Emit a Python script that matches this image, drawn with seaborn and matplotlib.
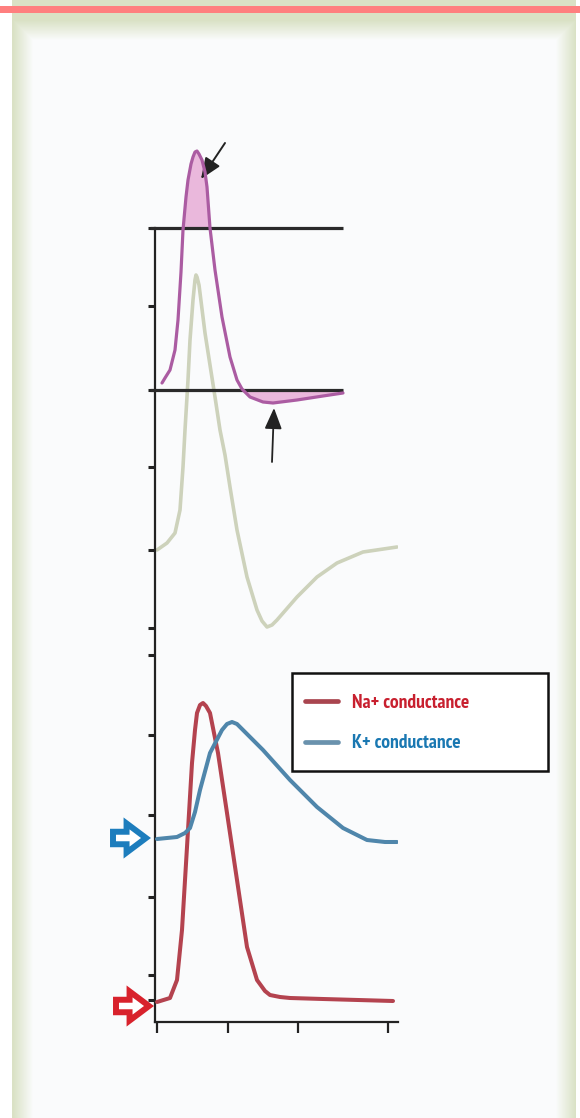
import numpy as np
import pandas as pd
import matplotlib
matplotlib.use("Agg")
import matplotlib.pyplot as plt
from matplotlib.patches import Rectangle
import seaborn as sns

# ---------------- data (arbitrary units) ----------------
# membrane potential trace (upper, magenta)
time_vm = [7, 10, 15, 20, 23, 26, 28, 31, 33, 36, 38, 40, 42, 44, 47, 50, 52, 55, 60, 67, 75, 82, 87, 95, 108, 118, 142, 168, 188]
vm = [639, 644, 652, 672, 702, 750, 792, 825, 842, 858, 865, 870, 871, 868, 862, 850, 835, 794, 752, 705, 665, 642, 633, 625, 620, 619, 622, 626, 629]

# action potential trace (middle, grey-green)
time_ap = [2, 12, 20, 25, 28, 30, 33, 35, 38, 40, 41, 42, 44, 50, 55, 60, 65, 70, 75, 82, 92, 102, 107, 112, 117, 122, 142, 162, 182, 208, 242]
ap = [472, 479, 489, 512, 555, 592, 642, 682, 722, 742, 747, 745, 737, 689, 657, 625, 592, 567, 535, 492, 445, 412, 401, 395, 397, 402, 425, 445, 459, 470, 475]

# conductances (lower)
time_na = [2, 15, 22, 27, 32, 37, 40, 42, 45, 48, 51, 55, 63, 72, 82, 92, 102, 110, 115, 125, 135, 168, 238]
na = [20, 24, 42, 92, 175, 259, 292, 309, 317, 319, 316, 309, 269, 209, 142, 75, 42, 31, 27, 25, 24, 23, 21]
time_k = [2, 22, 30, 35, 40, 45, 55, 67, 72, 77, 82, 88, 108, 135, 162, 188, 212, 230, 242]
k = [183, 185, 189, 194, 210, 232, 269, 292, 298, 300, 298, 292, 272, 242, 215, 194, 182, 180, 180]

channels = ["Na+ conductance", "K+ conductance"]
reference_levels = [794, 632]
ytick_values = [794, 716, 632, 555, 472, 394, 367, 287, 207, 125, 47, 22]
xtick_values = [2, 73, 143, 233]

# ---------------- figure ----------------
sns.set_theme(style="white")
FONT = ["PT Sans Narrow", "Archivo Narrow", "Liberation Sans", "DejaVu Sans"]
plt.rcParams["font.family"] = FONT

W, H = 580, 1118
fig = plt.figure(figsize=(W / 100, H / 100), dpi=100)

# decorative page background (frame)
ax_bg = fig.add_axes([0, 0, 1, 1], zorder=-5)
yy, xx = np.mgrid[0:H, 0:W]
bg = np.ones((H, W, 3))
inner = np.array([0.984, 0.988, 0.992])
green = np.array([0.855, 0.886, 0.776])
d = np.maximum.reduce([33 - xx, xx - 555, 40 - yy, np.zeros_like(xx)]).astype(float)
t = np.clip(d / 20.0, 0, 1)[..., None]
frame = inner * (1 - t) + green * t
mask = (xx >= 12) & (xx <= 575)
bg[mask] = frame[mask]
bg[6:13, :, :] = np.array([1.0, 0.50, 0.50])
ax_bg.imshow(bg, extent=[0, W, H, 0], aspect="auto", interpolation="bilinear")
ax_bg.set_xlim(0, W)
ax_bg.set_ylim(H, 0)
ax_bg.axis("off")

ax = fig.add_axes([155 / W, (H - 1022) / H, 243 / W, 892 / H])
ax.set_facecolor("none")

vm_df = pd.DataFrame({"t": time_vm, "v": vm})
ap_df = pd.DataFrame({"t": time_ap, "v": ap})
cond_df = pd.concat([
    pd.DataFrame({"t": time_na, "g": na, "channel": channels[0]}),
    pd.DataFrame({"t": time_k, "g": k, "channel": channels[1]}),
])

# reference lines
ax.hlines(reference_levels, -5, 188, color="#2a2a2a", lw=2.3, zorder=3, clip_on=False)

# shaded regions of the membrane potential trace
vm_x = np.array(time_vm, float)
vm_y = np.array(vm, float)
ax.fill_between(vm_x, vm_y, reference_levels[0], where=vm_y >= reference_levels[0],
                interpolate=True, color="#eab8dc", lw=0, zorder=2)
ax.fill_between(vm_x, vm_y, reference_levels[1], where=(vm_y <= reference_levels[1]) & (vm_x > 50),
                interpolate=True, color="#eab8dc", lw=0, zorder=2)

sns.lineplot(data=ap_df, x="t", y="v", ax=ax, color="#cdd2bb", lw=2.6, sort=False,
             estimator=None, zorder=2)
sns.lineplot(data=vm_df, x="t", y="v", ax=ax, color="#ab5ca2", lw=2.3, sort=False,
             estimator=None, zorder=4)
sns.lineplot(data=cond_df, x="t", y="g", hue="channel", hue_order=channels,
             palette=["#b4434f", "#4f86ab"], ax=ax, lw=2.9, sort=False, estimator=None, zorder=4)
for ln in ax.get_lines():
    ln.set_solid_joinstyle("round")
    ln.set_solid_capstyle("round")

# axes styling
ax.set_xlim(0, 243)
ax.set_ylim(0, 892)
for s in ["top", "right"]:
    ax.spines[s].set_visible(False)
ax.spines["left"].set_bounds(0, 794)
ax.spines["bottom"].set_bounds(0, 243)
for s in ["left", "bottom"]:
    ax.spines[s].set_color("#222222")
    ax.spines[s].set_linewidth(1.6)
ax.set_yticks(ytick_values)
ax.set_xticks(xtick_values)
ax.set_yticklabels([])
ax.set_xticklabels([])
ax.tick_params(axis="y", left=True, length=5, width=2.2, color="#222222", direction="out")
ax.tick_params(axis="x", bottom=True, length=8, width=1.6, color="#222222", direction="out")
ax.set_xlabel("")
ax.set_ylabel("")
ax.grid(False)

# annotation arrows
ax.annotate("", xy=(46, 843), xytext=(70, 879),
            arrowprops=dict(arrowstyle="-|>,head_length=0.8,head_width=0.33", color="#222222", lw=1.4,
                            mutation_scale=16, shrinkA=0, shrinkB=0), annotation_clip=False)
ax.annotate("", xy=(119, 614), xytext=(117, 560),
            arrowprops=dict(arrowstyle="-|>,head_length=0.8,head_width=0.33", color="#222222", lw=1.3,
                            mutation_scale=16, shrinkA=0, shrinkB=0), annotation_clip=False)

# baseline marker arrows (outlined block arrows)
ax.annotate("", xy=(-9, 184), xytext=(-42, 184),
            arrowprops=dict(arrowstyle="simple,head_length=0.7,head_width=1.05,tail_width=0.45",
                            fc="white", ec="#1d7dbd", lw=4.3, mutation_scale=20, shrinkA=0, shrinkB=0,
                            joinstyle="miter"),
            annotation_clip=False)
ax.annotate("", xy=(-6, 16), xytext=(-39, 16),
            arrowprops=dict(arrowstyle="simple,head_length=0.7,head_width=1.05,tail_width=0.45",
                            fc="white", ec="#d8222c", lw=4.3, mutation_scale=20, shrinkA=0, shrinkB=0,
                            joinstyle="miter"),
            annotation_clip=False)

# legend box (drawn as a frame) + legend entries
box = Rectangle((0.5638, 0.2814), 1.0535, 0.1099, transform=ax.transAxes, fill=True,
                facecolor="white", edgecolor="#111111", lw=1.8, clip_on=False, zorder=5)
ax.add_patch(box)
handles, labels = ax.get_legend_handles_labels()
leg = ax.legend(handles, labels, loc="upper left", bbox_to_anchor=(0.617, 0.3677),
                frameon=False, prop=dict(family=FONT, size=14, weight="bold"),
                handlelength=1.7, handletextpad=0.7, labelspacing=1.15, borderpad=0,
                borderaxespad=0)
leg.set_zorder(6)
for txt, c in zip(leg.get_texts(), ["#c8202f", "#1a78b2"]):
    txt.set_color(c)
for ln in leg.get_lines():
    ln.set_linewidth(3.4)
leg.get_lines()[0].set_color("#a9454f")
leg.get_lines()[1].set_color("#6a92ad")

fig.savefig("out.png", dpi=100)
